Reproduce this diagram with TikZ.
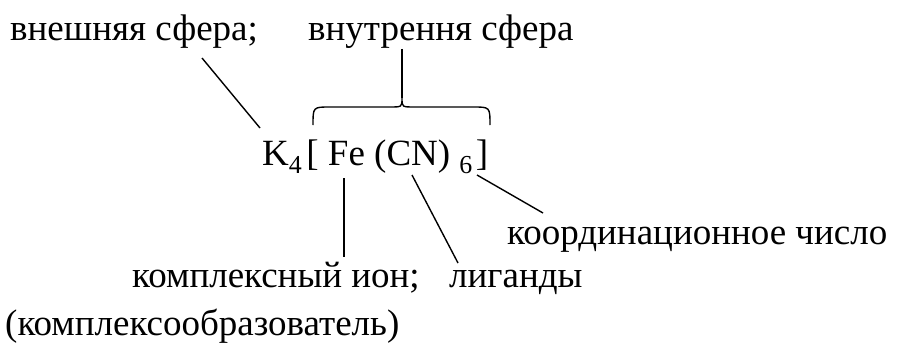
\documentclass[tikz,border=0pt]{standalone}
\usepackage{fontspec}
\newfontfamily\tnr{Liberation Serif}
\begin{document}
\begin{tikzpicture}[x=1pt,y=-1pt,
  lbl/.style={anchor=base west,inner sep=0pt,font=\tnr\fontsize{37}{39}\selectfont},
  frm/.style={anchor=base west,inner sep=0pt,font=\tnr\fontsize{37}{39}\selectfont},
  conn/.style={line width=1.4pt}]
\useasboundingbox (0,0) rectangle (897,345);
\node[lbl] (outer) at (10,41) {внешняя сфера;};
\node[lbl] (inner) at (308,41) {внутрення сфера};
\node[frm] (formula) at (262,165) {K\textsubscript{4}\kern4pt[ Fe (CN) \textsubscript{6}\kern3pt]};
\node[lbl] (coord) at (507,244) {координационное число};
\node[lbl] (ion) at (132,287) {комплексный ион;};
\node[lbl] (lig) at (449,287) {лиганды};
\node[lbl] (former) at (5,335) {(комплексообразователь)};
\coordinate (o1) at (202,58);
\coordinate (o2) at (260,128);
\coordinate (i1) at (402,49);
\coordinate (tip) at (402,98);
\coordinate (f1) at (344,178);
\coordinate (f2) at (344,257);
\coordinate (l1) at (412,175);
\coordinate (l2) at (458,263);
\coordinate (c1) at (477,175);
\coordinate (c2) at (543,213);
\draw[conn] (o1) -- (o2);
\draw[conn] (i1) -- (tip);
\draw[conn] (313,125) .. controls (313,107) .. (330,107) -- (390,107) .. controls (402,107) .. (tip) .. controls (402,107) .. (414,107) -- (473,107) .. controls (490,107) .. (490,125);
\draw[conn] (f1) -- (f2);
\draw[conn] (l1) -- (l2);
\draw[conn] (c1) -- (c2);
\end{tikzpicture}
\end{document}
